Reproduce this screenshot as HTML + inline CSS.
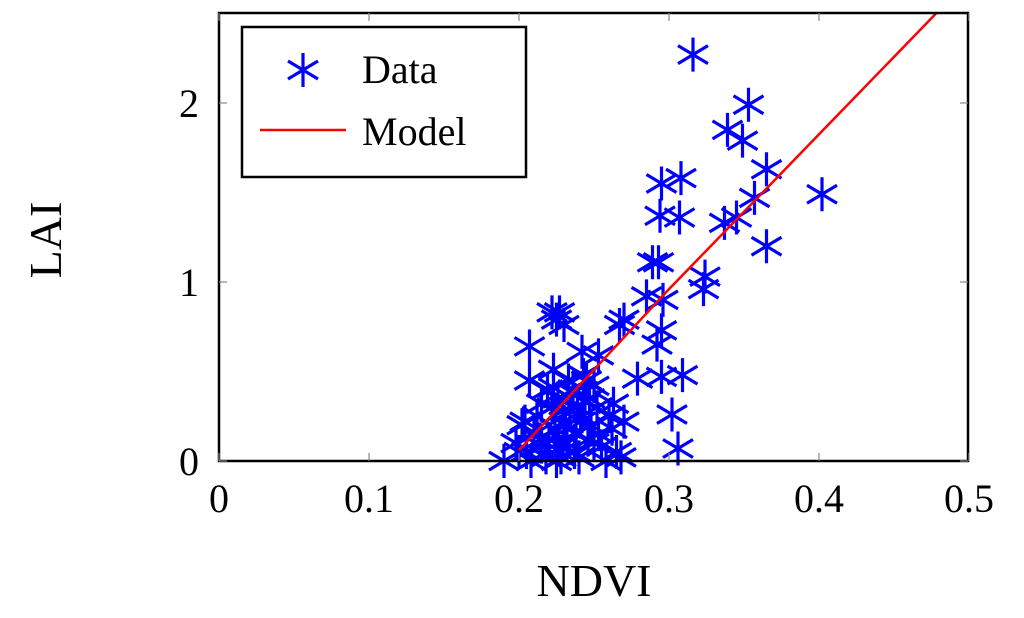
<!DOCTYPE html>
<html><head><meta charset="utf-8"><style>
html,body{margin:0;padding:0;background:#fff;width:1024px;height:618px;overflow:hidden}
text{font-family:"Liberation Serif",serif;fill:#000}
</style></head><body>
<svg id="chart" width="1024" height="618" viewBox="0 0 1024 618" xmlns="http://www.w3.org/2000/svg">
<g id="grid"></g>
<g id="marks"></g>
<rect x="219" y="13" width="749" height="448" fill="none" stroke="#000" stroke-width="2.5"/>
<g id="ticks"></g>
<text x="594" y="596" font-size="46" text-anchor="middle">NDVI</text>
<text transform="translate(61,240) rotate(-90)" font-size="46" text-anchor="middle">LAI</text>
<g>
<rect x="242" y="27" width="284" height="150" fill="#fff" stroke="#000" stroke-width="2.5"/>
<g id="legmark"></g>
<text x="362" y="83" font-size="40">Data</text>
<line x1="260" y1="130" x2="346" y2="130" stroke="#f00" stroke-width="2.5"/>
<text x="362" y="145" font-size="40">Model</text>
</g>
</svg>
<script>
const xTicks=[0,0.1,0.2,0.3,0.4,0.5];
const xTickLabels=["0","0.1","0.2","0.3","0.4","0.5"];
const yTicks=[0,1,2];
const yTickLabels=["0","1","2"];
const dataX=[0.316,0.353,0.339,0.349,0.365,0.402,0.357,0.295,0.308,0.294,0.307,0.337,0.345,0.365,0.289,0.293,0.324,0.323,0.285,0.296,0.267,0.270,0.295,0.292,0.279,0.295,0.309,0.302,0.306,
0.225,0.227,0.222,0.230,0.207,0.253,0.242,0.207,0.223,0.223,0.236,0.245,0.263,0.270,
0.190,0.198,0.202,0.205,0.210,0.212,0.215,0.218,0.220,0.222,0.224,0.226,0.228,0.230,0.232,0.234,0.236,0.238,0.240,0.242,0.244,0.246,0.248,0.250,0.252,0.255,0.258,0.262,0.265,0.268,0.200,0.208,0.214,0.219,0.225,0.229,0.233,0.237,0.241,0.247,0.253,0.260,0.226,0.231,0.239,0.215,0.204,0.228,0.243,0.250];
const dataY=[2.27,1.99,1.85,1.79,1.63,1.49,1.47,1.55,1.58,1.37,1.36,1.33,1.36,1.20,1.11,1.11,1.03,0.96,0.92,0.90,0.76,0.79,0.73,0.65,0.46,0.47,0.48,0.26,0.07,
0.79,0.83,0.83,0.76,0.64,0.59,0.61,0.45,0.51,0.41,0.40,0.45,0.32,0.22,
0.00,0.10,0.20,0.05,0.15,0.25,0.08,0.02,0.12,0.30,0.18,0.35,0.05,0.22,0.10,0.28,0.38,0.15,0.02,0.25,0.33,0.12,0.20,0.42,0.30,0.08,0.00,0.18,0.05,0.02,0.05,0.00,0.12,0.40,0.00,0.28,0.45,0.05,0.22,0.35,0.15,0.25,0.10,0.20,0.30,0.32,0.22,0.02,0.48,0.10];
const modelX=[0.200,0.300,0.478];
const modelY=[0.06,0.96,2.50];

const X=v=>219+v*1500, Y=v=>461-v*179;
const ns="http://www.w3.org/2000/svg";
function mk(tag,attrs,parent){const e=document.createElementNS(ns,tag);for(const k in attrs)e.setAttribute(k,attrs[k]);parent.appendChild(e);return e;}
const ticks=document.getElementById('ticks');
xTicks.forEach((t,i)=>{
  const l=mk('line',{x1:X(t),x2:X(t),y1:461,y2:453,stroke:'#888','stroke-width':1.2},ticks);
  
  
  const l2=mk('line',{x1:X(t),x2:X(t),y1:13,y2:21,stroke:'#888','stroke-width':1.2},ticks);
  
  
  const tx=mk('text',{x:X(t),y:512,'font-size':40,'text-anchor':'middle'},ticks);
  tx.textContent=xTickLabels[i];
  
  
});
yTicks.forEach((t,i)=>{
  const l=mk('line',{x1:219,x2:227,y1:Y(t),y2:Y(t),stroke:'#888','stroke-width':1.2},ticks);
  
  
  const l2=mk('line',{x1:960,x2:968,y1:Y(t),y2:Y(t),stroke:'#888','stroke-width':1.2},ticks);
  
  
  const tx=mk('text',{x:199,y:Y(t)+14,'font-size':40,'text-anchor':'end'},ticks);
  tx.textContent=yTickLabels[i];
  
  
});
function star(cx,cy,parent){
  const d=`M${cx},${cy-17}L${cx},${cy+17}M${cx-15},${cy-9}L${cx+15},${cy+9}M${cx-15},${cy+9}L${cx+15},${cy-9}`;
  return mk('path',{d:d,stroke:'#0000ff','stroke-width':3.2,fill:'none'},parent);
}
const marks=document.getElementById('marks');
const mp=modelX.map((x,i)=>X(x)+','+Y(modelY[i])).join(' ');
dataX.forEach((x,i)=>{
  const p=star(X(x),Y(dataY[i]),marks);
  
  
});
const ml=mk('polyline',{points:mp,fill:'none',stroke:'#ff0000','stroke-width':2.5},marks);


const lm=star(303,70,document.getElementById('legmark'));


</script>
</body></html>
